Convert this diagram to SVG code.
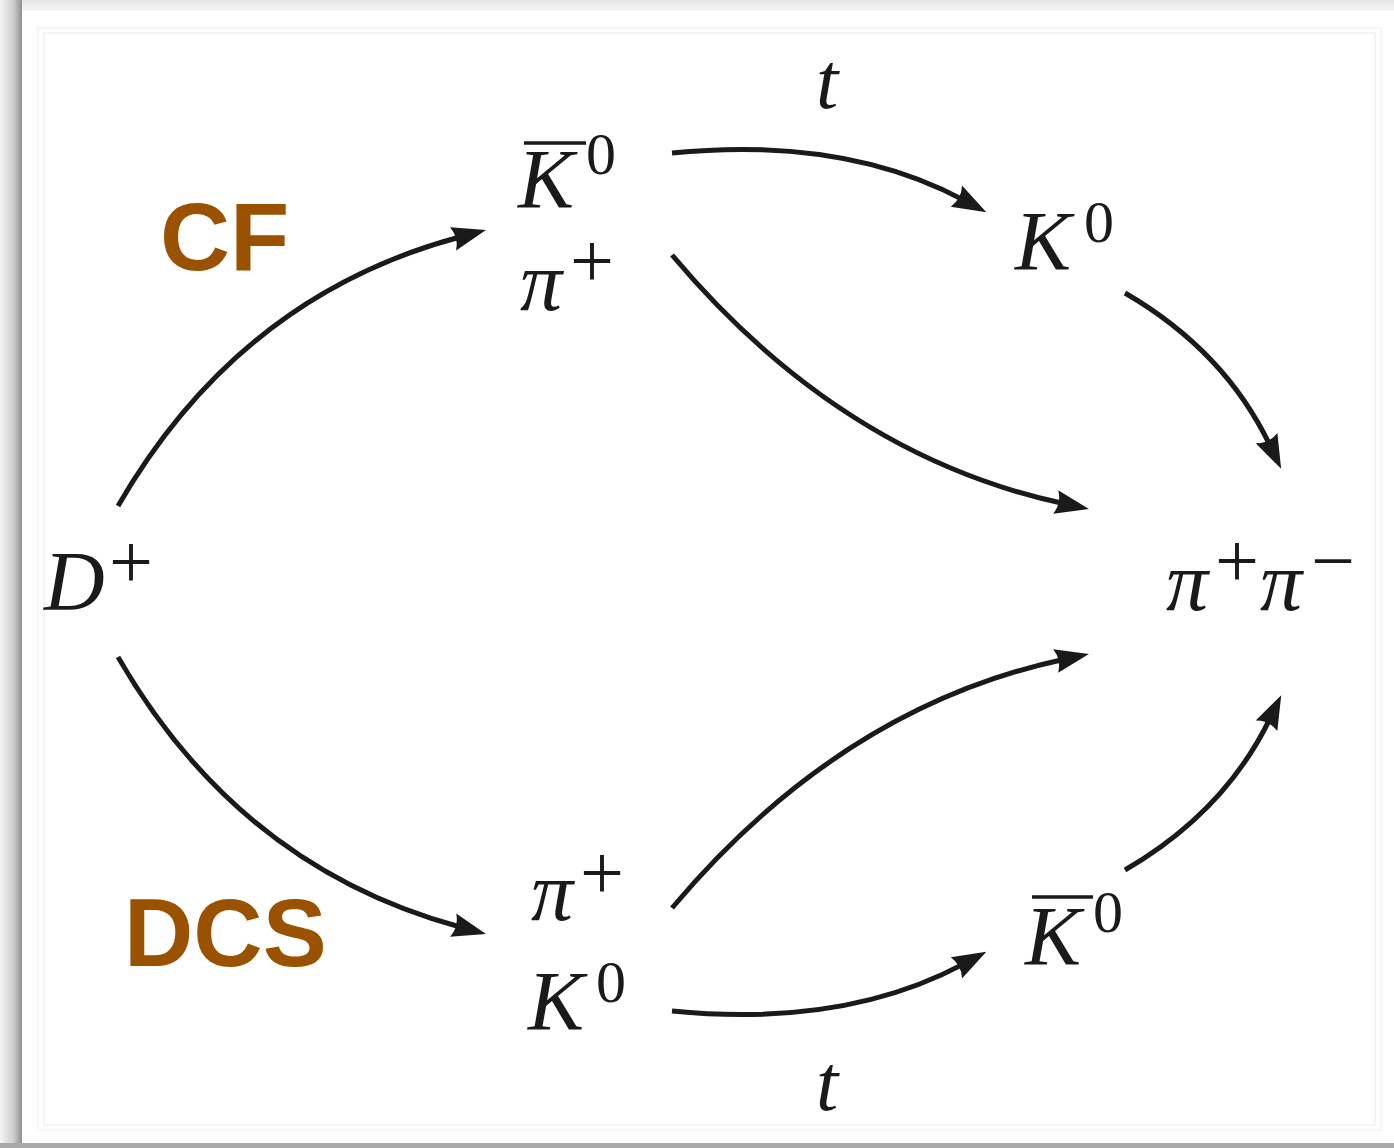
<svg xmlns="http://www.w3.org/2000/svg" width="1394" height="1148" viewBox="0 0 1394 1148">
<defs>
<linearGradient id="gTop" x1="0" y1="0" x2="0" y2="1"><stop offset="0" stop-color="#e6e6e6"/><stop offset="1" stop-color="#f6f6f6"/></linearGradient>
<linearGradient id="gLeft" x1="0" y1="0" x2="1" y2="0"><stop offset="0" stop-color="#f4f4f4"/><stop offset="0.6" stop-color="#cfcfcf"/><stop offset="1" stop-color="#8f8f8f"/></linearGradient>
<marker id="ah" viewBox="0 0 36 28" markerWidth="36" markerHeight="28" refX="9" refY="14" orient="auto" markerUnits="userSpaceOnUse">
<path d="M0,2 L34,14 L0,26 Q6,14 0,2 Z" fill="#1a1a1a"/>
</marker>
<style>
.m{font-family:"Liberation Serif","DejaVu Serif",serif;font-style:italic;fill:#1a1a1a}
.s{font-family:"Liberation Serif","DejaVu Serif",serif;font-style:normal;fill:#1a1a1a}
.lab{font-family:"Liberation Sans",Arial,sans-serif;font-weight:bold;fill:#9a5200}
.c{fill:none;stroke:#1a1a1a;stroke-width:5;marker-end:url(#ah)}
.bar{stroke:#1a1a1a;stroke-width:3.5}
</style>
</defs>
<rect x="0" y="0" width="1394" height="1148" fill="#ffffff"/>
<rect x="0" y="0" width="1394" height="11" fill="url(#gTop)"/>
<rect x="0" y="0" width="22" height="1148" fill="url(#gLeft)"/>
<rect x="0" y="1143" width="1394" height="5" fill="#a8a8a8"/>
<rect x="38" y="28" width="1343" height="1102" fill="none" stroke="#f4f4f4" stroke-width="1.5"/>
<rect x="44" y="33" width="1331" height="1092" fill="none" stroke="#efefef" stroke-width="1.5"/>

<g id="connectors">
<path class="c" d="M118,506 Q240,295 461.8,236.5"/>
<path class="c" d="M118,657 Q240,868 461.8,927.5"/>
<path class="c" d="M672,153 Q844,136 964.3,200.4"/>
<path class="c" d="M672,255 Q841,456 1064.5,503.8"/>
<path class="c" d="M1125,293 Q1225,351 1270.4,446.3"/>
<path class="c" d="M672,908 Q841,707 1064.5,659.2"/>
<path class="c" d="M672,1011 Q844,1028 964.3,963.6"/>
<path class="c" d="M1125,870 Q1225,812 1270.4,717.7"/>
</g>

<g id="node-Dplus">
<text class="m" x="44" y="610" font-size="84">D</text>
<text class="s" x="109" y="588" font-size="78">+</text>
</g>

<g id="node-K0bar-piplus-top">
<line class="bar" x1="524" y1="143" x2="586" y2="143"/>
<text class="m" x="518" y="208" font-size="84">K</text>
<text class="s" x="586" y="174" font-size="60">0</text>
<text class="m" x="520" y="310" font-size="84">π</text>
<text class="s" x="570" y="287" font-size="78">+</text>
</g>

<g id="node-K0-top">
<text class="m" x="1015" y="270" font-size="84">K</text>
<text class="s" x="1084" y="242" font-size="60">0</text>
</g>

<g id="node-pipi">
<text class="m" x="1166" y="610" font-size="84">π</text>
<text class="s" x="1215" y="587" font-size="78">+</text>
<text class="m" x="1260" y="610" font-size="84">π</text>
<text class="s" x="1311" y="587" font-size="78">−</text>
</g>

<g id="node-piplus-K0-bottom">
<text class="m" x="531" y="920" font-size="84">π</text>
<text class="s" x="580" y="899" font-size="78">+</text>
<text class="m" x="528" y="1030" font-size="84">K</text>
<text class="s" x="596" y="1002" font-size="60">0</text>
</g>

<g id="node-K0bar-bottom">
<line class="bar" x1="1032" y1="897" x2="1093" y2="897"/>
<text class="m" x="1025" y="965" font-size="84">K</text>
<text class="s" x="1093" y="932" font-size="60">0</text>
</g>

<g id="labels">
<text class="m" x="816" y="108" font-size="80">t</text>
<text class="m" x="816" y="1110" font-size="80">t</text>
<text class="lab" x="160" y="270" font-size="97">CF</text>
<text class="lab" x="124" y="966" font-size="96">DCS</text>
</g>
</svg>
